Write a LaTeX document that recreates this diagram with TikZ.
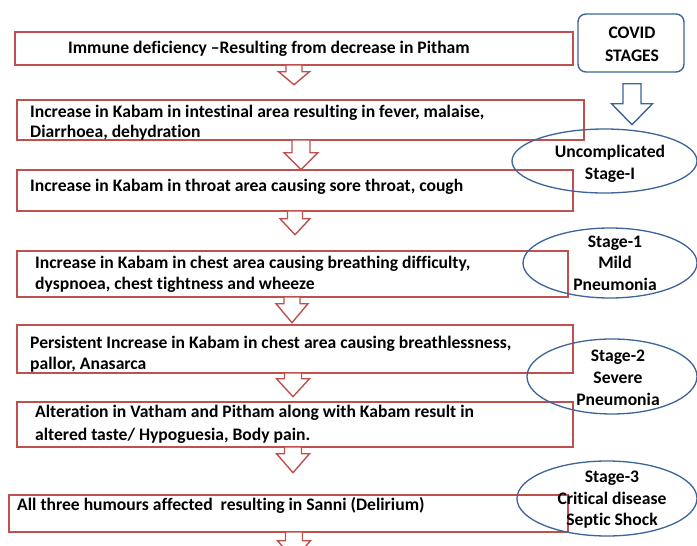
\documentclass[tikz,border=0pt]{standalone}
\usepackage{fontspec}
\setmainfont{Carlito}[Ligatures=NoCommon]
\usetikzlibrary{shapes.geometric,calc}
\definecolor{bred}{RGB}{192,80,77}
\definecolor{bblue}{RGB}{60,100,155}
\tikzset{
  pics/blockarr/.style n args={4}{code={%
    \draw[pic actions] (-#1,0) -- (#1,0) -- (#1,#3) -- (#2,#3) -- (0,#3+#4) -- (-#2,#3) -- (-#1,#3) -- cycle;
  }}
}
\begin{document}
\begin{tikzpicture}[x=1pt,y=-1pt,
  box/.style={draw=bred,line width=1.4pt,rectangle,inner sep=0pt},
  btxt/.style={anchor=base west,inner sep=0pt,font=\fontsize{17.6}{21}\selectfont\bfseries},
  etxt/.style={anchor=base,inner sep=0pt,font=\fontsize{17.6}{21}\selectfont\bfseries},
  stage/.style={draw=bblue,line width=1.3pt,ellipse,inner sep=0pt},
  redarrow/.style={draw=bred,line width=1.4pt,fill=white,line join=miter},
  bluearrow/.style={draw=bblue,line width=1.4pt,fill=white,line join=miter},
]
\useasboundingbox (0,0) rectangle (697,546);
\fill[white] (0,0) rectangle (697,546);

% boxes
\node[box,minimum width=558,minimum height=33] (b1) at (294,48.5) {};
\node[box,minimum width=567,minimum height=40] (b2) at (300.5,120) {};
\node[box,minimum width=556,minimum height=41] (b3) at (295,190.5) {};
\node[box,minimum width=551,minimum height=46] (b4) at (292.5,274) {};
\node[box,minimum width=556,minimum height=48] (b5) at (295,349) {};
\node[box,minimum width=556,minimum height=45] (b6) at (295,424.5) {};
\node[box,minimum width=559,minimum height=37] (b7) at (288.5,513.5) {};

% arrows between boxes
\pic[redarrow] at ($(b1.south)+(0,-0.7)$) {blockarr={8}{15.5}{6.7}{13}};
\pic[redarrow] at ($(b2.south)+(0.5,-0.7)$) {blockarr={9}{17}{12.7}{17}};
\pic[redarrow] at ($(b3.south)+(0,-0.7)$) {blockarr={7.5}{15}{7.7}{16}};
\pic[redarrow] at ($(b4.south)+(-0.5,-0.7)$) {blockarr={8}{16}{6.7}{19}};
\pic[redarrow] at ($(b5.south)+(-2,-0.7)$) {blockarr={8.5}{16.5}{5.7}{18}};
\pic[redarrow] at ($(b6.south)+(-2,-0.7)$) {blockarr={8.5}{16.5}{6.7}{19}};
\pic[redarrow] at ($(b7.south)+(5.5,-0.7)$) {blockarr={8.5}{16.5}{8.7}{19}};

% box texts
\node[btxt] (t1) at (68,53) {Immune deficiency –Resulting from decrease in Pitham};
\node[btxt] (t2a) at (30,117) {Increase in Kabam in intestinal area resulting in fever, malaise,};
\node[btxt] (t2b) at (30,137) {Diarrhoea, dehydration};
\node[btxt] (t3) at (30,191) {Increase in Kabam in throat area causing sore throat, cough};
\node[btxt] (t4a) at (35,268) {Increase in Kabam in chest area causing breathing difficulty,};
\node[btxt] (t4b) at (35,289) {dyspnoea, chest tightness and wheeze};
\node[btxt] (t5a) at (30,348) {Persistent Increase in Kabam in chest area causing breathlessness,};
\node[btxt] (t5b) at (30,369) {pallor, Anasarca};
\node[btxt] (t6a) at (35,417) {Alteration in Vatham and Pitham along with Kabam result in};
\node[btxt] (t6b) at (35,440) {altered taste/ Hypoguesia, Body pain.};
\node[btxt] (t7) at (17,510) {All three humours affected\ \ resulting in Sanni (Delirium)};

% covid stages
\node[draw=bblue,line width=1.4pt,rounded corners=8pt,minimum width=106,minimum height=58,inner sep=0pt] (covid) at (631,43) {};
\node[etxt] (c1) at (632,38) {COVID};
\node[etxt] (c2) at (632,61) {STAGES};
\pic[bluearrow] at ($(covid.south)+(1,11)$) {blockarr={9}{20.5}{20}{21}};

% stage ellipses
\node[stage,minimum width=185,minimum height=64] (e1) at (604.5,161) {};
\node[stage,minimum width=174,minimum height=70] (e2) at (610,263) {};
\node[stage,minimum width=170,minimum height=75] (e3) at (612,376.5) {};
\node[stage,minimum width=180,minimum height=75] (e4) at (607,498.5) {};

\node[etxt] (e1a) at (610,157) {Uncomplicated};
\node[etxt] (e1b) at (610,179) {Stage-I};
\node[etxt] (e2a) at (615,247) {Stage-1};
\node[etxt] (e2b) at (615,268) {Mild};
\node[etxt] (e2c) at (615,290) {Pneumonia};
\node[etxt] (e3a) at (618,361) {Stage-2};
\node[etxt] (e3b) at (618,383) {Severe};
\node[etxt] (e3c) at (618,405) {Pneumonia};
\node[etxt] (e4a) at (612,482) {Stage-3};
\node[etxt] (e4b) at (612,504) {Critical disease};
\node[etxt] (e4c) at (612,525) {Septic Shock};
\end{tikzpicture}
\end{document}
